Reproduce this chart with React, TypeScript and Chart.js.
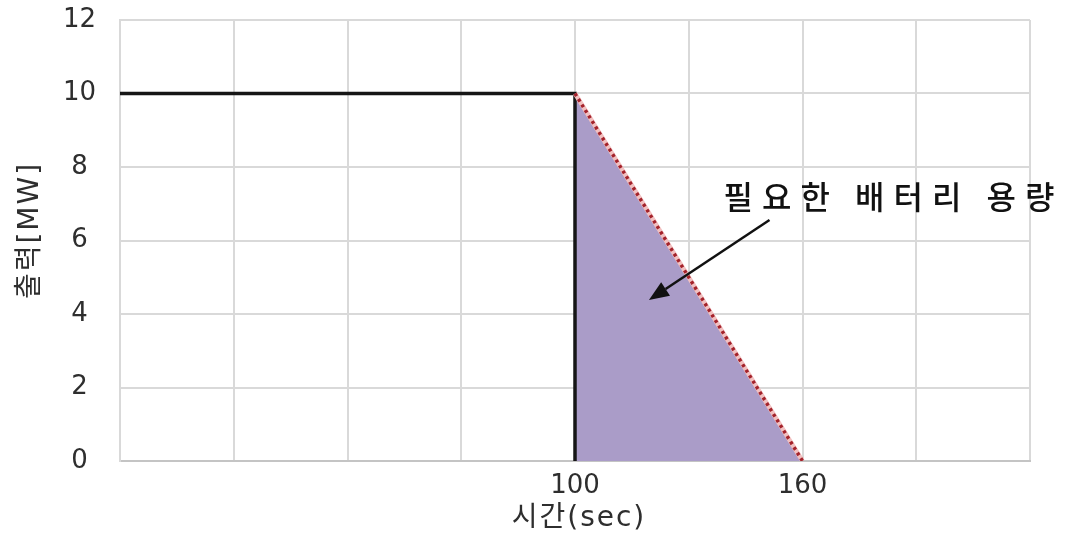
import React, { useEffect, useRef } from 'react';
import { Chart, registerables } from 'chart.js';

Chart.register(...registerables);

// Generator output held at rated power, then ramped down to zero
const holdTime = [-20, 100, 100];
const holdPower = [10, 10, 0];
const rampTime = [100, 160];
const rampPower = [10, 0];

// Axis grid and labels
const xGridValues = [-20, 10, 40, 70, 100, 130, 160, 190, 220];
const xLabelValues = [100, 160];
const yTickValues = [0, 2, 4, 6, 8, 10, 12];
const xTitle = '시간(sec)';
const yTitle = '출력[MW]';

// Callout for the shaded energy area
const noteText = '필요한 배터리 용량';
const noteAt = { x: 184, y: 7.18 };
const arrowFrom = { x: 151.3, y: 6.56 };
const arrowTo = { x: 119.5, y: 4.38 };

const GRID = '#d9d9d9';
const TEXT = '#2e2e2e';
const FONT = '"DejaVu Sans", "Noto Sans CJK KR", sans-serif';

const overlay = {
  id: 'overlay',
  afterDraw(chart: any) {
    const { ctx, chartArea } = chart;
    const x = chart.scales.x;
    const y = chart.scales.y;
    ctx.save();

    // callout text
    ctx.font = '500 32px "Noto Sans CJK KR", sans-serif';
    (ctx as any).letterSpacing = '9px';
    ctx.fillStyle = '#111111';
    ctx.textAlign = 'center';
    ctx.textBaseline = 'middle';
    ctx.fillText(noteText, x.getPixelForValue(noteAt.x), y.getPixelForValue(noteAt.y));

    // arrow pointing into the shaded area
    const x0 = x.getPixelForValue(arrowFrom.x);
    const y0 = y.getPixelForValue(arrowFrom.y);
    const x1 = x.getPixelForValue(arrowTo.x);
    const y1 = y.getPixelForValue(arrowTo.y);
    const ang = Math.atan2(y1 - y0, x1 - x0);
    const headLen = 20;
    const headHalf = 8;
    const bx = x1 - headLen * Math.cos(ang);
    const by = y1 - headLen * Math.sin(ang);
    ctx.strokeStyle = '#111111';
    ctx.lineWidth = 2.5;
    ctx.beginPath();
    ctx.moveTo(x0, y0);
    ctx.lineTo(bx, by);
    ctx.stroke();
    ctx.fillStyle = '#111111';
    ctx.beginPath();
    ctx.moveTo(x1, y1);
    ctx.lineTo(bx + headHalf * Math.sin(ang), by - headHalf * Math.cos(ang));
    ctx.lineTo(bx - headHalf * Math.sin(ang), by + headHalf * Math.cos(ang));
    ctx.closePath();
    ctx.fill();

    // axis titles
    ctx.font = '28px ' + FONT;
    (ctx as any).letterSpacing = '2px';
    ctx.fillStyle = TEXT;
    ctx.fillText(xTitle, (chartArea.left + chartArea.right) / 2 + 4, 519);
    ctx.translate(31, (chartArea.top + chartArea.bottom) / 2 - 10);
    ctx.rotate(-Math.PI / 2);
    ctx.fillText(yTitle, 0, 0);

    ctx.restore();
  },
};

export default function App() {
  const canvasRef = useRef<HTMLCanvasElement | null>(null);

  useEffect(() => {
    if (!canvasRef.current) return;
    // Chart.js paints the last dataset first, so the list runs top layer to bottom layer
    const chart = new Chart(canvasRef.current, {
      type: 'line',
      data: {
        datasets: [
          {
            label: 'ramp',
            data: rampTime.map((t, i) => ({ x: t, y: rampPower[i] })),
            borderColor: '#a3222b',
            borderWidth: 3.5,
            borderDash: [3, 3.5],
            pointRadius: 0,
            fill: false,
            tension: 0,
          },
          {
            label: 'ramp-base',
            data: rampTime.map((t, i) => ({ x: t, y: rampPower[i] })),
            borderColor: '#f2c0c0',
            borderWidth: 4.5,
            pointRadius: 0,
            fill: false,
            tension: 0,
          },
          {
            label: 'hold',
            data: holdTime.map((t, i) => ({ x: t, y: holdPower[i] })),
            borderColor: '#161616',
            borderWidth: 3.5,
            pointRadius: 0,
            fill: false,
            tension: 0,
          },
          {
            label: 'area',
            data: rampTime.map((t, i) => ({ x: t, y: rampPower[i] })),
            borderWidth: 0,
            pointRadius: 0,
            backgroundColor: '#aa9cc8',
            fill: 'origin',
            tension: 0,
          },
        ],
      },
      options: {
        animation: false,
        responsive: false,
        maintainAspectRatio: false,
        layout: { padding: { top: 20, right: 40, left: 0, bottom: 0 } },
        plugins: { legend: { display: false }, tooltip: { enabled: false } },
        scales: {
          x: {
            type: 'linear',
            min: -20,
            max: 220,
            afterBuildTicks: (s: any) => {
              s.ticks = xGridValues.map((v) => ({ value: v }));
            },
            afterFit: (s: any) => {
              s.height = 77;
              s.paddingLeft = 0;
              s.paddingRight = 0;
            },
            grid: { color: GRID, lineWidth: 2, drawTicks: false },
            border: { color: '#c4c4c4', width: 2 },
            ticks: {
              autoSkip: false,
              maxRotation: 0,
              padding: 10,
              color: TEXT,
              font: { family: FONT, size: 26 },
              callback: (v: any) => (xLabelValues.includes(Number(v)) ? String(v) : ''),
            },
          },
          y: {
            type: 'linear',
            min: 0,
            max: 12,
            afterBuildTicks: (s: any) => {
              s.ticks = yTickValues.map((v) => ({ value: v }));
            },
            afterFit: (s: any) => {
              s.width = 120;
              s.paddingTop = 0;
              s.paddingBottom = 0;
            },
            grid: { color: GRID, lineWidth: 2, drawTicks: false },
            border: { color: GRID, width: 2 },
            ticks: {
              crossAlign: 'center',
              padding: 24,
              color: TEXT,
              font: { family: FONT, size: 26 },
            },
          },
        },
      },
      plugins: [overlay],
    } as any);
    return () => chart.destroy();
  }, []);

  return (
    <div style={{ position: 'absolute', left: 0, top: 0, width: 1070, height: 538, background: '#ffffff' }}>
      <canvas ref={canvasRef} width={1070} height={538} style={{ width: 1070, height: 538 }} />
    </div>
  );
}
